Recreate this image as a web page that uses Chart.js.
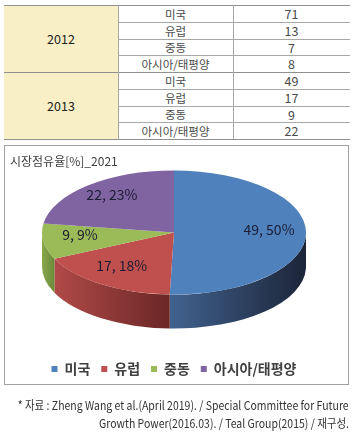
<!DOCTYPE html>
<html><head><meta charset="utf-8">
<script src="https://cdn.jsdelivr.net/npm/chart.js@4/dist/chart.umd.min.js"></script>
<style>
html,body{margin:0;padding:0;background:#fff;}
#page{position:relative;width:356px;height:439px;overflow:hidden;font-family:'Noto Sans CJK KR','Noto Sans',sans-serif;}
.cell{position:absolute;display:flex;align-items:center;justify-content:center;color:#4a4a4a;white-space:nowrap;}
.hl{position:absolute;height:1px;background:#a8a8a8;}
.vl{position:absolute;width:1px;background:#a8a8a8;}
#cvwrap{position:absolute;left:5px;top:146px;width:343px;height:240px;}
#box{position:absolute;left:4px;top:145px;width:343px;height:238px;border:1px solid #a0a0a0;pointer-events:none;}
.note{position:absolute;right:7px;font-size:12px;line-height:18px;color:#333;white-space:nowrap;transform-origin:100% 50%;}
</style></head>
<body><div id="page">
<div id="tbl"></div>
<div id="cvwrap"><canvas id="cv" width="343" height="240"></canvas></div>
<div id="box"></div>
<div class="note" id="n1" style="top:396px;" data-w="331">* 자료 : Zheng Wang et al.(April 2019). / Special Committee for Future</div>
<div class="note" id="n2" style="top:414px;" data-w="250">Growth Power(2016.03). / Teal Group(2015) / 재구성.</div>
</div>
<script>
// ---- data ----
const years = ['2012', '2013'];
const regions = ['미국', '유럽', '중동', '아시아/태평양'];
const share2012 = [71, 13, 7, 8];
const share2013 = [49, 17, 9, 22];
const chartTitle = '시장점유율[%]_2021';
const chartValues = [49, 17, 9, 22];
const chartPercents = [50, 18, 9, 23];
const sliceColors = ['#4F81BD', '#C0504D', '#9BBB59', '#8064A2'];
const sideColors = [['#41628f', '#1c2538'], ['#b04a48', '#6a2726'], ['#88a84c', '#6d8a39'], ['#6a5290', '#4f3c6c']];

// ---- footnote width fit ----
document.querySelectorAll('.note').forEach(n => {
  const w = n.getBoundingClientRect().width;
  n.style.transform = 'scaleX(' + (parseFloat(n.dataset.w) / w) + ')';
});

// ---- table ----
(function buildTable(){
  const tbl = document.getElementById('tbl');
  const rowH = 16.75, top0 = 5;
  const xs = [4, 118, 233, 350];
  const yAt = i => Math.round(top0 + i * rowH);
  const tableRows = [share2012, share2013];
  let html = '';
  years.forEach((y, yi) => {
    const t = yAt(yi * 4), b = yAt(yi * 4 + 4);
    html += `<div class="cell" style="left:${xs[0]}px;top:${t}px;width:${xs[1]-xs[0]}px;height:${b-t}px;background:#f9efc6;color:#222;font-size:12.5px;">${y}</div>`;
    regions.forEach((r, ri) => {
      const rt = yAt(yi * 4 + ri), rb = yAt(yi * 4 + ri + 1);
      html += `<div class="cell" style="left:${xs[1]}px;top:${rt}px;width:${xs[2]-xs[1]}px;height:${rb-rt}px;font-size:11.5px;">${r}</div>`;
      html += `<div class="cell" style="left:${xs[2]}px;top:${rt}px;width:${xs[3]-xs[2]}px;height:${rb-rt}px;font-size:12.5px;">${tableRows[yi][ri]}</div>`;
    });
  });
  for (let i = 0; i <= 8; i++) {
    const full = (i % 4 === 0);
    const x0 = full ? xs[0] : xs[1];
    html += `<div class="hl" style="left:${x0}px;top:${yAt(i)}px;width:${xs[3]-x0}px;${full?'background:#909090;':''}"></div>`;
  }
  [xs[1], xs[2]].forEach(x => {
    html += `<div class="vl" style="left:${x}px;top:${yAt(0)}px;height:${yAt(8)-yAt(0)}px;"></div>`;
  });
  tbl.innerHTML = html;
})();

// ---- 3D pie plugin ----
const TILT = 0.47, DEPTH = 34, LABEL_R = 0.72, LABEL_DY = -4;
const pie3d = {
  id: 'pie3d',
  beforeDatasetsDraw(chart) {
    const ctx = chart.ctx;
    const meta = chart.getDatasetMeta(0);
    const cx = meta.data[0].x, cy = meta.data[0].y;
    ctx.save();
    meta.data.forEach((el, i) => {
      const r = el.outerRadius;
      const a0 = Math.max(el.startAngle, 0), a1 = Math.min(el.endAngle, Math.PI);
      if (a1 <= a0) return;
      const xl = cx + r * Math.cos(a1), xr = cx + r * Math.cos(a0);
      const g = ctx.createLinearGradient(xl, 0, xr, 0);
      g.addColorStop(0, sideColors[i][0]);
      g.addColorStop(1, sideColors[i][1]);
      ctx.beginPath();
      ctx.ellipse(cx, cy, r, r * TILT, 0, a0, a1, false);
      ctx.ellipse(cx, cy + DEPTH, r, r * TILT, 0, a1, a0, true);
      ctx.closePath();
      ctx.fillStyle = g;
      ctx.fill();
    });
    ctx.restore();
    ctx.save();
    ctx.translate(cx, cy);
    ctx.scale(1, TILT);
    ctx.translate(-cx, -cy);
  },
  afterDatasetsDraw(chart) {
    const ctx = chart.ctx;
    ctx.restore();
    const meta = chart.getDatasetMeta(0);
    ctx.save();
    ctx.font = "14px 'Noto Sans CJK KR', 'Noto Sans', sans-serif";
    ctx.fillStyle = '#1b1b33';
    ctx.textAlign = 'center';
    ctx.textBaseline = 'middle';
    meta.data.forEach((el, i) => {
      const mid = (el.startAngle + el.endAngle) / 2;
      const r = el.outerRadius * LABEL_R;
      const x = el.x + Math.cos(mid) * r;
      const y = el.y + Math.sin(mid) * r * TILT + LABEL_DY;
      ctx.fillText(chartValues[i] + ', ' + chartPercents[i] + '%', x, y);
    });
    ctx.restore();
  }
};

new Chart(document.getElementById('cv'), {
  type: 'pie',
  data: {
    labels: regions,
    datasets: [{
      data: chartValues,
      backgroundColor: sliceColors,
      borderWidth: 0,
      clip: false
    }]
  },
  options: {
    responsive: false,
    animation: false,
    events: [],
    radius: 132,
    layout: { padding: { left: 5, right: 10, top: 0, bottom: 0 } },
    plugins: {
      tooltip: { enabled: false },
      title: {
        display: true,
        text: chartTitle,
        align: 'start',
        color: '#404040',
        font: { family: "'Noto Sans CJK KR', sans-serif", size: 12, weight: 'normal' },
        padding: { top: 8.5, bottom: 0 }
      },
      legend: {
        display: true,
        position: 'bottom',
        title: { display: true, text: ' ', font: { size: 1 }, padding: { top: 53.6, bottom: 0 } },
        labels: {
          boxWidth: 6,
          boxHeight: 6,
          padding: 11,
          color: '#404040',
          font: { family: "'Noto Sans CJK KR', sans-serif", size: 14, weight: 'bold' }
        }
      }
    }
  },
  plugins: [pie3d]
});
</script>
</body></html>
